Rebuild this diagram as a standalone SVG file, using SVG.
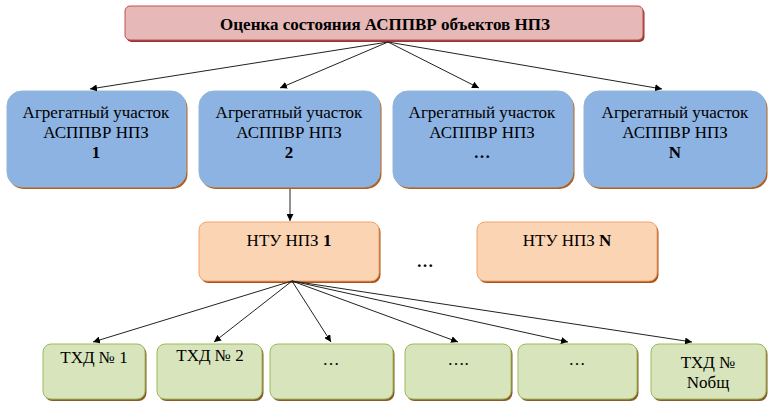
<svg xmlns="http://www.w3.org/2000/svg" width="768" height="402" viewBox="0 0 768 402">
<defs>
<marker id="ah" viewBox="0 0 10 10" refX="10" refY="5" markerWidth="7" markerHeight="7" orient="auto" markerUnits="userSpaceOnUse">
<path d="M0,0 L10,5 L0,10 z" fill="#000"/>
</marker>
</defs>
<style>
text{font-family:'Liberation Serif','DejaVu Serif',serif;font-size:17px;fill:#000;text-anchor:middle}
.b{font-weight:bold}
.title{font-weight:bold;font-size:17px}
.topS{fill:#943634}
.top{fill:#E6B8B7;stroke:#C0504D;stroke-width:1}
.blueS{fill:#B06020}
.blue{fill:#8DB3E2;stroke:#95B3D7;stroke-width:1}
.ntuS{fill:#A5541B}
.ntu{fill:#FBD4B4;stroke:#F2A36A;stroke-width:1}
.txdS{fill:#8A5A2B}
.txd{fill:#D7E4BC;stroke:#9BBB59;stroke-width:1}
.con line{stroke:#222;stroke-width:1;marker-end:url(#ah)}
</style>
<rect width="768" height="402" fill="#fff"/>
<g id="root">
<rect class="topS" x="126.5" y="8" width="518" height="34" rx="5"/>
<rect class="top" x="125" y="6" width="518" height="34" rx="5"/>
<text class="title" x="385" y="30">Оценка состояния АСППВР объектов НПЗ</text>
</g>
<g id="agg1">
<rect class="blueS" x="8.5" y="93" width="179" height="96" rx="15"/>
<rect class="blue" x="7" y="91" width="179" height="96" rx="15"/>
<text x="96" y="118">Агрегатный участок</text>
<text x="96" y="138">АСППВР НПЗ</text>
<text class="b" x="96" y="158">1</text>
</g>
<g id="agg2">
<rect class="blueS" x="200.5" y="93" width="181" height="96" rx="15"/>
<rect class="blue" x="199" y="91" width="181" height="96" rx="15"/>
<text x="289" y="118">Агрегатный участок</text>
<text x="289" y="138">АСППВР НПЗ</text>
<text class="b" x="289" y="158">2</text>
</g>
<g id="agg3">
<rect class="blueS" x="394.5" y="93" width="180" height="96" rx="15"/>
<rect class="blue" x="393" y="91" width="180" height="96" rx="15"/>
<text x="482" y="118">Агрегатный участок</text>
<text x="482" y="138">АСППВР НПЗ</text>
<text class="b" x="482" y="158">…</text>
</g>
<g id="aggN">
<rect class="blueS" x="585.5" y="93" width="182" height="96" rx="15"/>
<rect class="blue" x="584" y="91" width="182" height="96" rx="15"/>
<text x="675" y="118">Агрегатный участок</text>
<text x="675" y="138">АСППВР НПЗ</text>
<text class="b" x="675" y="158">N</text>
</g>
<g id="ntu1">
<rect class="ntuS" x="200.5" y="224" width="180" height="59" rx="8"/>
<rect class="ntu" x="199" y="222" width="180" height="59" rx="8"/>
<text x="289" y="246">НТУ НПЗ <tspan class="b">1</tspan></text>
</g>
<g id="ntuDots">
<text class="b" x="425" y="267">…</text>
</g>
<g id="ntuN">
<rect class="ntuS" x="478.5" y="224" width="180" height="59" rx="8"/>
<rect class="ntu" x="477" y="222" width="180" height="59" rx="8"/>
<text x="567" y="246">НТУ НПЗ <tspan class="b">N</tspan></text>
</g>
<g id="txd1">
<rect class="txdS" x="44.5" y="346" width="102" height="55" rx="8"/>
<rect class="txd" x="43" y="344" width="102" height="55" rx="8"/>
<text x="94" y="363">ТХД № 1</text>
</g>
<g id="txd2">
<rect class="txdS" x="158.5" y="346" width="105" height="55" rx="8"/>
<rect class="txd" x="157" y="344" width="105" height="55" rx="8"/>
<text x="210" y="361">ТХД № 2</text>
</g>
<g id="txd3">
<rect class="txdS" x="271.5" y="346" width="123" height="55" rx="8"/>
<rect class="txd" x="270" y="344" width="123" height="55" rx="8"/>
<text x="331" y="365">…</text>
</g>
<g id="txd4">
<rect class="txdS" x="406.5" y="346" width="106" height="55" rx="8"/>
<rect class="txd" x="405" y="344" width="106" height="55" rx="8"/>
<text x="458" y="365">….</text>
</g>
<g id="txd5">
<rect class="txdS" x="519.5" y="346" width="119" height="55" rx="8"/>
<rect class="txd" x="518" y="344" width="119" height="55" rx="8"/>
<text x="577" y="365">…</text>
</g>
<g id="txdN">
<rect class="txdS" x="652.5" y="346" width="115" height="55" rx="8"/>
<rect class="txd" x="651" y="344" width="115" height="55" rx="8"/>
<text x="708" y="368">ТХД №</text>
<text x="708" y="388">Nобщ</text>
</g>
<g id="connectors" class="con">
<line x1="388" y1="42" x2="90" y2="89"/>
<line x1="388" y1="42" x2="280" y2="88"/>
<line x1="388" y1="42" x2="479" y2="88"/>
<line x1="388" y1="42" x2="662" y2="89"/>
<line x1="290" y1="189" x2="290" y2="221"/>
<line x1="292" y1="281" x2="93" y2="342"/>
<line x1="292" y1="281" x2="214" y2="342"/>
<line x1="292" y1="281" x2="331" y2="342"/>
<line x1="292" y1="281" x2="458" y2="342"/>
<line x1="292" y1="281" x2="568" y2="342"/>
<line x1="292" y1="281" x2="692" y2="342"/>
</g>
</svg>
